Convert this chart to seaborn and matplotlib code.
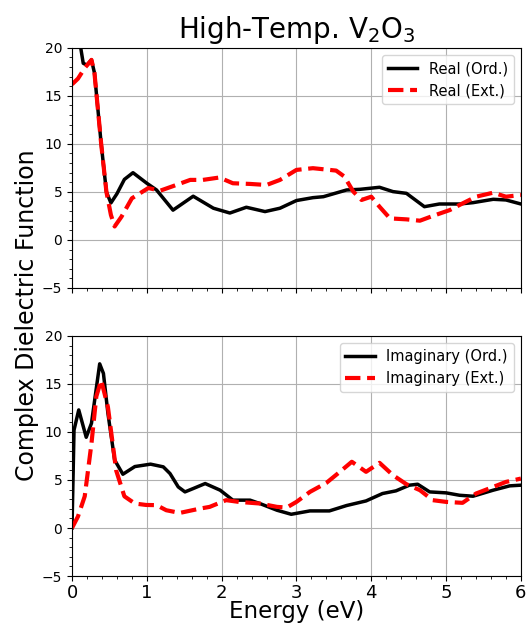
import numpy as np
import pandas as pd
import matplotlib
matplotlib.use("Agg")
import matplotlib.pyplot as plt
import seaborn as sns
from matplotlib.ticker import MultipleLocator

# Values (energy in eV)
real_ord_x = [0.0, 0.05, 0.10, 0.15, 0.20, 0.26, 0.30, 0.39, 0.46, 0.52, 0.60, 0.70,
              0.815, 1.00, 1.13, 1.35, 1.62, 1.89, 2.11, 2.33, 2.58, 2.78, 3.00,
              3.22, 3.36, 3.67, 3.85, 4.11, 4.29, 4.47, 4.71, 4.91, 5.18, 5.36,
              5.63, 5.80, 6.00]
real_ord_y = [30.0, 25.0, 20.8, 18.4, 18.2, 18.75, 17.4, 10.0, 5.0, 3.85, 4.8, 6.3,
              7.0, 5.9, 5.2, 3.1, 4.55, 3.3, 2.8, 3.4, 2.95, 3.3, 4.1,
              4.4, 4.5, 5.2, 5.27, 5.48, 5.03, 4.85, 3.46, 3.74, 3.74, 3.88,
              4.23, 4.16, 3.74]

real_ext_x = [0.0, 0.08, 0.17, 0.26, 0.30, 0.39, 0.46, 0.52, 0.57, 0.66, 0.80,
              1.02, 1.18, 1.35, 1.58, 1.75, 1.97, 2.15, 2.38, 2.60, 2.78, 3.00,
              3.22, 3.53, 3.64, 3.76, 3.87, 4.00, 4.11, 4.25, 4.47, 4.65, 4.82,
              5.05, 5.22, 5.40, 5.63, 5.80, 6.00]
real_ext_y = [16.2, 16.8, 17.9, 18.75, 17.4, 10.0, 5.0, 2.6, 1.4, 2.4, 4.33,
              5.4, 5.13, 5.6, 6.25, 6.25, 6.5, 5.9, 5.83, 5.72, 6.25, 7.29,
              7.47, 7.22, 6.6, 5.03, 4.16, 4.5, 3.46, 2.24, 2.14, 2.0, 2.49,
              3.11, 3.8, 4.5, 4.92, 4.5, 4.68]

imag_ord_x = [0.0, 0.027, 0.09, 0.19, 0.26, 0.37, 0.42, 0.48, 0.57, 0.68, 0.84,
              1.05, 1.22, 1.31, 1.42, 1.51, 1.62, 1.78, 1.98, 2.15, 2.38, 2.51,
              2.74, 2.93, 3.18, 3.44, 3.67, 3.93, 4.15, 4.33, 4.51, 4.62, 4.78,
              5.00, 5.18, 5.36, 5.63, 5.85, 6.00]
imag_ord_y = [0.0, 10.2, 12.3, 9.45, 10.9, 17.1, 16.1, 11.95, 7.08, 5.6, 6.4,
              6.65, 6.37, 5.67, 4.28, 3.76, 4.11, 4.63, 3.94, 2.9, 2.9, 2.55,
              1.85, 1.43, 1.78, 1.78, 2.34, 2.82, 3.59, 3.87, 4.46, 4.56, 3.76,
              3.66, 3.41, 3.31, 3.94, 4.39, 4.46]

imag_ext_x = [0.0, 0.08, 0.17, 0.26, 0.325, 0.39, 0.48, 0.59, 0.70, 0.84, 0.99,
              1.13, 1.26, 1.44, 1.71, 1.84, 2.06, 2.23, 2.51, 2.74, 2.87, 3.00,
              3.18, 3.40, 3.58, 3.74, 3.93, 4.11, 4.29, 4.47, 4.65, 4.82, 5.00,
              5.22, 5.40, 5.63, 5.80, 6.00]
imag_ext_y = [0.0, 1.2, 3.3, 8.8, 13.7, 15.4, 12.6, 6.0, 3.3, 2.55, 2.4,
              2.38, 1.85, 1.57, 2.02, 2.2, 2.9, 2.72, 2.55, 2.2, 2.13, 2.72,
              3.76, 4.7, 5.85, 6.9, 5.85, 6.79, 5.5, 4.56, 3.94, 2.9, 2.72,
              2.62, 3.59, 4.28, 4.8, 5.15]

fig = plt.figure(figsize=(5.31, 6.3), dpi=100)
ax1 = fig.add_axes([0.1356, 0.543, 0.8454, 0.381])
ax2 = fig.add_axes([0.1356, 0.0857, 0.8454, 0.381], sharex=ax1)

sns.lineplot(x=real_ord_x, y=real_ord_y, ax=ax1, color="black", lw=2.5,
             label="Real (Ord.)", sort=False)
sns.lineplot(x=real_ext_x, y=real_ext_y, ax=ax1, color="red", lw=3,
             linestyle="--", label="Real (Ext.)", sort=False)
sns.lineplot(x=imag_ord_x, y=imag_ord_y, ax=ax2, color="black", lw=2.5,
             label="Imaginary (Ord.)", sort=False)
sns.lineplot(x=imag_ext_x, y=imag_ext_y, ax=ax2, color="red", lw=3,
             linestyle="--", label="Imaginary (Ext.)", sort=False)

for ax in (ax1, ax2):
    ax.set_xlim(0, 6)
    ax.set_ylim(-5, 20)
    ax.yaxis.set_major_locator(MultipleLocator(5))
    ax.yaxis.set_minor_locator(MultipleLocator(1))
    ax.xaxis.set_major_locator(MultipleLocator(1))
    ax.xaxis.set_minor_locator(MultipleLocator(0.2))
    ax.grid(True, which="major", color="#b0b0b0", lw=0.8)
    ax.tick_params(axis="y", labelsize=10)
    ax.tick_params(axis="x", labelsize=13, pad=2)
    ax.legend(loc="upper right", fontsize=10.5)
    ax.set_xlabel("")
    ax.set_ylabel("")

ax1.tick_params(axis="x", labelbottom=False)
ax1.set_title("High-Temp. V$_2$O$_3$", fontsize=20, pad=7)
ax2.set_xlabel("Energy (eV)", fontsize=16.5, labelpad=-1)
fig.text(0.05, 0.5, "Complex Dielectric Function", rotation=90,
         fontsize=17, va="center", ha="center")

fig.savefig("out.png", dpi=100)
